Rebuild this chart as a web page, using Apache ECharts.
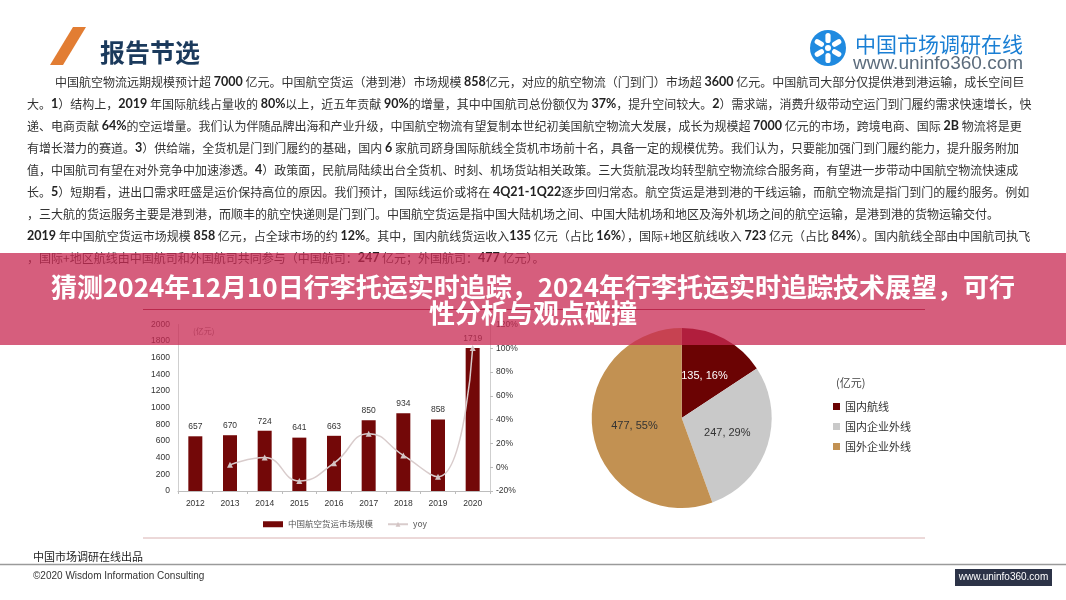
<!DOCTYPE html>
<html><head><meta charset="utf-8">
<script src="https://cdn.jsdelivr.net/npm/echarts@6/dist/echarts.min.js"></script>
<style>html,body{margin:0;padding:0;background:#fff}#c{width:1066px;height:600px}</style>
</head><body><div id="c"></div>
<script>
// ---- data ----
const years = ['2012','2013','2014','2015','2016','2017','2018','2019','2020'];
const marketSize = [657, 670, 724, 641, 663, 850, 934, 858, 1719];
const yoyPct = [null, 2.0, 8.1, -11.5, 3.4, 28.2, 9.9, -8.1, 100.3];
const barSeriesName = '中国航空货运市场规模';
const lineSeriesName = 'yoy';
const pieNames = ['国内航线', '国内企业外线', '国外企业外线'];
const pieValues = [135, 247, 477];
const pieColors = ['#6b0303', '#c9c9c9', '#c29152'];
const unitLabel = '(亿元)';
const pageTitle = '报告节选';
const bannerLines = ['猜测2024年12月10日行李托运实时追踪，2024年行李托运实时追踪技术展望，可行', '性分析与观点碰撞'];
const paragraphLines = [
 '中国航空物流远期规模预计超 **7000** 亿元。中国航空货运（港到港）市场规模 **858**亿元，对应的航空物流（门到门）市场超 **3600** 亿元。中国航司大部分仅提供港到港运输，成长空间巨',
 '大。**1**）结构上，**2019** 年国际航线占量收的 **80%**以上，近五年贡献 **90%**的增量，其中中国航司总份额仅为 **37%**，提升空间较大。**2**）需求端，消费升级带动空运门到门履约需求快速增长，快',
 '递、电商贡献 **64%**的空运增量。我们认为伴随品牌出海和产业升级，中国航空物流有望复制本世纪初美国航空物流大发展，成长为规模超 **7000** 亿元的市场，跨境电商、国际 **2B** 物流将是更',
 '有增长潜力的赛道。**3**）供给端，全货机是门到门履约的基础，国内 **6** 家航司跻身国际航线全货机市场前十名，具备一定的规模优势。我们认为，只要能加强门到门履约能力，提升服务附加',
 '值，中国航司有望在对外竞争中加速渗透。**4**）政策面，民航局陆续出台全货机、时刻、机场货站相关政策。三大货航混改均转型航空物流综合服务商，有望进一步带动中国航空物流快速成',
 '长。**5**）短期看，进出口需求旺盛是运价保持高位的原因。我们预计，国际线运价或将在 **4Q21-1Q22**逐步回归常态。航空货运是港到港的干线运输，而航空物流是指门到门的履约服务。例如',
 '，三大航的货运服务主要是港到港，而顺丰的航空快递则是门到门。中国航空货运是指中国大陆机场之间、中国大陆机场和地区及海外机场之间的航空运输，是港到港的货物运输交付。',
 '**2019** 年中国航空货运市场规模 **858** 亿元，占全球市场的约 **12%**。其中，国内航线货运收入**135** 亿元（占比 **16%**），国际+地区航线收入 **723** 亿元（占比 **84%**）。国内航线全部由中国航司执飞',
 '，国际+地区航线由中国航司和外国航司共同参与（中国航司：**247** 亿元；外国航司：**477** 亿元）。'
];
const logoName = '中国市场调研在线';
const logoUrl = 'www.uninfo360.com';
const footerLeft = '中国市场调研在线出品';
const footerCopy = '©2020 Wisdom Information Consulting';

// ---- build ----
const CJK = '"Noto Sans CJK SC", sans-serif';
const graphics = [];
// orange slash + title
graphics.push({type:'polygon', shape:{points:[[50,65],[63,65],[86,27],[73,27]]}, style:{fill:'#e27d33'}});
graphics.push({type:'text', style:{text:pageTitle, x:100, y:52, font:'bold 25px ' + CJK, fill:'#1b3a5c', verticalAlign:'middle'}});
// logo
const petals = [];
for (let k = 0; k < 6; k++) {
  petals.push({type:'group', rotation: k*Math.PI/3, children:[
    {type:'rect', shape:{x:-2.6, y:-15, width:5.2, height:10, r:2.6}, style:{fill:'#fff'}}
  ]});
}
graphics.push({type:'circle', shape:{cx:828, cy:48, r:18}, style:{fill:'#1f8ae0'}});
graphics.push({type:'group', x:828, y:48, children: petals});
graphics.push({type:'circle', shape:{cx:828, cy:48, r:3}, style:{fill:'#fff'}});
graphics.push({type:'text', style:{text:logoName, x:855, y:44, font:'21px ' + CJK, fill:'#1a7fd4', verticalAlign:'middle'}});
graphics.push({type:'text', style:{text:logoUrl, x:853, y:64, font:'19px "Liberation Sans", Arial, sans-serif', fill:'#5c6c7c', verticalAlign:'middle'}});
// paragraph
paragraphLines.forEach(function (s, i) {
  graphics.push({type:'text', style:{
    text: s.replace(/\*\*(.+?)\*\*/g, '{b|$1}'),
    x: i === 0 ? 55 : 27, y: 82 + i*22,
    font: '12px ' + CJK, fill:'#333', verticalAlign:'middle',
    rich: { b: { fontWeight:'bold', fontFamily:'Lato, "Liberation Sans", sans-serif', fontSize:12.5, fill:'#222' } }
  }});
});
// chart frame lines
graphics.push({type:'line', shape:{x1:143, y1:309.5, x2:925, y2:309.5}, style:{stroke:'#8f2a3c', lineWidth:1}});
graphics.push({type:'line', shape:{x1:143, y1:538, x2:925, y2:538}, style:{stroke:'#d9b2b2', lineWidth:1}});
graphics.push({type:'text', style:{text:unitLabel, x:193, y:331, font:'8px ' + CJK, fill:'#777', verticalAlign:'middle'}});
graphics.push({type:'text', style:{text:unitLabel, x:836, y:383, font:'11px ' + CJK, fill:'#444', verticalAlign:'middle'}});
// footer
graphics.push({type:'text', style:{text:footerLeft, x:33, y:557, font:'11px ' + CJK, fill:'#222', verticalAlign:'middle'}});
graphics.push({type:'line', shape:{x1:0, y1:564.5, x2:1066, y2:564.5}, style:{stroke:'#9a9a9a', lineWidth:1.5}});
graphics.push({type:'text', style:{text:footerCopy, x:33, y:576, font:'10px "Liberation Sans Narrow", "Liberation Sans", sans-serif', fill:'#333', verticalAlign:'middle'}});
graphics.push({type:'rect', shape:{x:955, y:569, width:97, height:17}, style:{fill:'#2c3347'}});
graphics.push({type:'text', style:{text:logoUrl, x:1003.5, y:577.5, font:'10px "Liberation Sans Narrow", "Liberation Sans", sans-serif', fill:'#fff', align:'center', verticalAlign:'middle'}});
// banner overlay
graphics.push({type:'rect', z:100, shape:{x:0, y:253, width:1066, height:92}, style:{fill:'rgba(200,40,82,0.75)'}});
bannerLines.forEach(function (s, i) {
  graphics.push({type:'text', z:101, style:{text:s, x:533, y:287 + i*26.5, font:'bold 26px ' + CJK, fill:'#fff', align:'center', verticalAlign:'middle'}});
});

const axisLabelStyle = {fontSize:8.5, color:'#333', fontFamily:'"Liberation Sans", sans-serif'};
const option = {
  animation: false,
  backgroundColor: '#fff',
  graphic: graphics,
  grid: {left:178, top:324.5, width:312, height:166.5},
  legend: [
    {data:[{name:barSeriesName, icon:'rect'}, {name:lineSeriesName}], left:258, top:515, itemWidth:20, itemHeight:6, itemGap:14,
     textStyle:{fontSize:8.5, color:'#555', fontFamily:CJK}},
    {data:pieNames, orient:'vertical', left:828, top:396, icon:'rect', itemWidth:7, itemHeight:7, itemGap:9,
     textStyle:{fontSize:11, color:'#333', fontFamily:CJK}}
  ],
  xAxis: {type:'category', data:years,
    axisLine:{lineStyle:{color:'#bdbdbd'}},
    axisTick:{show:true, length:3, lineStyle:{color:'#bdbdbd'}},
    axisLabel:Object.assign({margin:8}, axisLabelStyle)},
  yAxis: [
    {type:'value', min:0, max:2000, interval:200, splitLine:{show:false},
     axisLine:{show:true, lineStyle:{color:'#cfcfcf'}}, axisTick:{show:false},
     axisLabel:Object.assign({margin:8, formatter:function (v) { return String(v); }}, axisLabelStyle)},
    {type:'value', min:-20, max:120, interval:20, position:'right', splitLine:{show:false},
     axisLine:{show:true, lineStyle:{color:'#cfcfcf'}}, axisTick:{show:true, length:3, lineStyle:{color:'#bbb'}},
     axisLabel:Object.assign({margin:6, formatter:'{value}%'}, axisLabelStyle)}
  ],
  series: [
    {name:barSeriesName, type:'bar', data:marketSize, barWidth:14, itemStyle:{color:'#730808'},
     label:{show:true, position:'top', distance:5, fontSize:8.5, color:'#333', fontFamily:'"Liberation Sans", sans-serif'}},
    {name:lineSeriesName, type:'line', yAxisIndex:1, data:yoyPct, smooth:true, symbol:'triangle', symbolSize:6,
     lineStyle:{color:'#d9cccc', width:1.5}, itemStyle:{color:'#d3c4c4'}},
    {name:'pie', type:'pie', center:[681.7, 418], radius:90, startAngle:90, clockwise:true, percentPrecision:0,
     label:{show:true, position:'inside', formatter:'{c}, {d}%', fontSize:11, color:'#333', fontFamily:'"Liberation Sans", sans-serif'},
     labelLine:{show:false}, emphasis:{disabled:true},
     data: pieNames.map(function (n, i) {
       return {name:n, value:pieValues[i], itemStyle:{color:pieColors[i]}, label: i === 0 ? {color:'#fff'} : {}};
     })}
  ]
};
const chart = echarts.init(document.getElementById('c'), null, {renderer:'canvas'});
chart.setOption(option);
</script></body></html>
